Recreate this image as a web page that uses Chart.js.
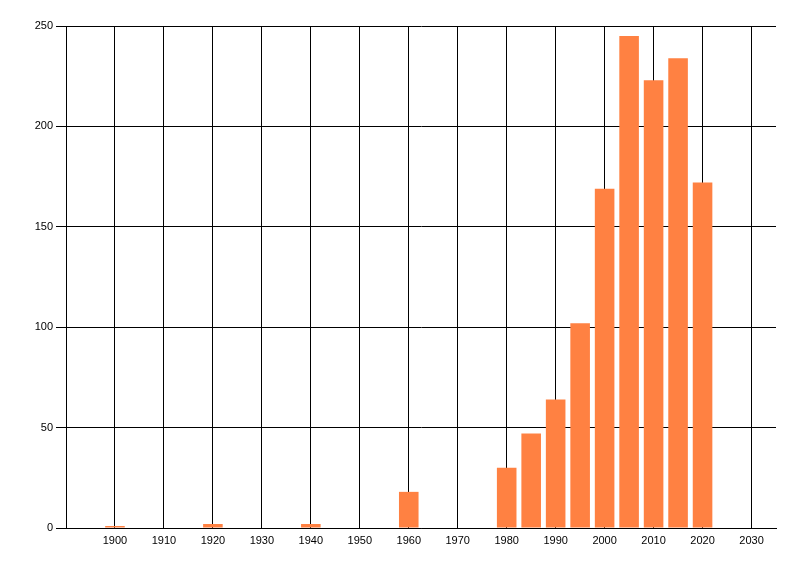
<!DOCTYPE html>
<html>
<head>
<meta charset="utf-8">
<script src="https://cdn.jsdelivr.net/npm/chart.js@4"></script>
<style>
  html, body { margin: 0; padding: 0; background: #fff; }
  #wrap { width: 800px; height: 576px; }
</style>
</head>
<body>
<div id="wrap"><canvas id="chart"></canvas></div>
<script>
// values
const years = [1900, 1920, 1940, 1960, 1980, 1985, 1990, 1995, 2000, 2005, 2010, 2015, 2020];
const counts = [1, 2, 2, 18, 30, 47, 64, 102, 169, 245, 223, 234, 172];
const xTicks = [1900, 1910, 1920, 1930, 1940, 1950, 1960, 1970, 1980, 1990, 2000, 2010, 2020, 2030];
const yTicks = [0, 50, 100, 150, 200, 250];

const tickFont = { family: 'Liberation Sans', size: 11 };

new Chart(document.getElementById('chart'), {
  type: 'bar',
  data: {
    datasets: [{
      data: years.map((y, i) => ({ x: y, y: counts[i] })),
      backgroundColor: '#ff8142',
      barPercentage: 1,
      categoryPercentage: 0.8
    }]
  },
  options: {
    responsive: true,
    maintainAspectRatio: false,
    animation: false,
    layout: { padding: { top: 26, right: 24, left: 0, bottom: 0 } },
    plugins: { legend: { display: false }, tooltip: { enabled: false } },
    scales: {
      x: {
        type: 'linear',
        offset: false,
        min: 1890,
        max: 2035,
        afterBuildTicks: s => { s.ticks = xTicks.map(v => ({ value: v })); },
        afterFit: s => { s.height = 48; },
        grid: { color: '#000', lineWidth: 1, drawTicks: false, offset: false },
        border: { color: '#000', width: 1 },
        ticks: { color: '#000', font: tickFont, padding: 6, maxRotation: 0, autoSkip: false,
                 callback: v => String(v) }
      },
      y: {
        min: 0,
        max: 250,
        afterBuildTicks: s => { s.ticks = yTicks.map(v => ({ value: v })); },
        afterFit: s => { s.width = 66; },
        grid: { color: '#000', lineWidth: 1, tickLength: 10 },
        border: { color: '#000', width: 1 },
        ticks: { color: '#000', font: tickFont, padding: 3 }
      }
    }
  }
});
</script>
</body>
</html>
